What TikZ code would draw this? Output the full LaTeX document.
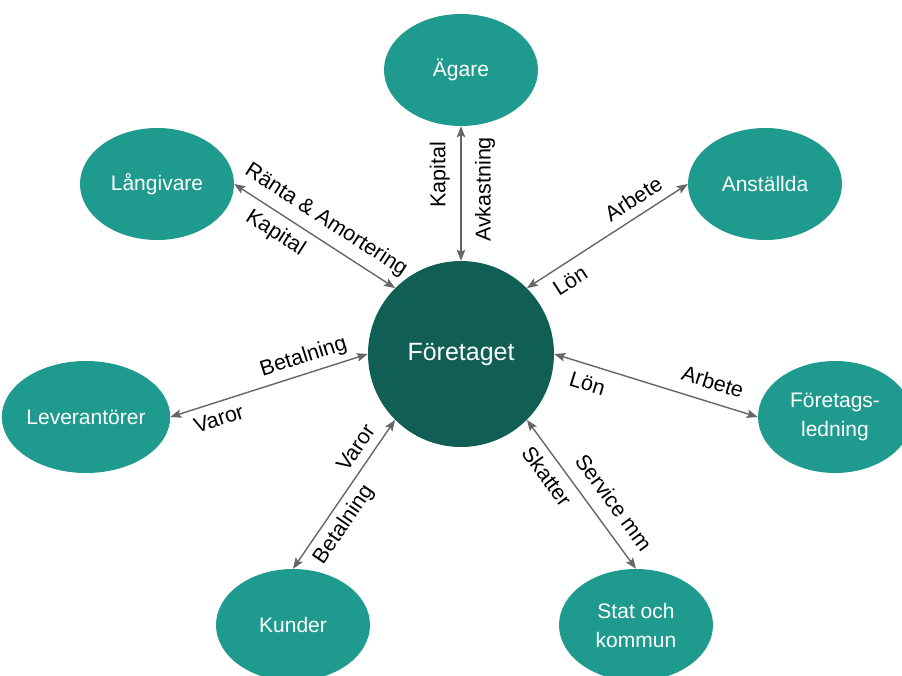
\documentclass[tikz,border=0pt]{standalone}
\usepackage{fontspec}
\setmainfont{Liberation Sans}
\usetikzlibrary{shapes.geometric,arrows.meta}
\definecolor{tealnode}{HTML}{1E9B8E}
\definecolor{darkhub}{HTML}{115E55}
\definecolor{linkgray}{HTML}{666666}
\tikzset{
  party/.style={ellipse, fill=tealnode, minimum width=154pt, minimum height=112pt,
    inner sep=0pt, text=white, font=\fontsize{21}{29}\selectfont, align=center},
  hub/.style={circle, fill=darkhub, minimum size=186pt, inner sep=0pt,
    text=white, font=\fontsize{25}{28}\selectfont},
  flow/.style={draw=linkgray, line width=1.4pt,
    {Stealth[length=11pt,width=8.5pt,inset=2pt]}-{Stealth[length=11pt,width=8.5pt,inset=2pt]}},
  lbl/.style={font=\fontsize{21.5}{24}\selectfont, inner sep=0pt, text height=15pt,
    text depth=4pt, sloped}
}
\begin{document}
\begin{tikzpicture}[x=1pt,y=-1pt]
\useasboundingbox (0,0) rectangle (902,676);

% central company and its stakeholders
\node[hub]   (hub)  at (461,354) {Företaget};
\node[party] (agare) at (461,70)  {Ägare};
\node[party] (lang)  at (157,184) {Långivare};
\node[party] (anst)  at (765,184) {Anställda};
\node[party] (lev)   at (86,417)  {Leverantörer};
\node[party] (fl)    at (835,417) {Företags-\\ledning};
\node[party] (kund)  at (293,625) {Kunder};
\node[party] (stat)  at (636,625) {Stat och\\kommun};

% two-way flows
\draw[flow] (hub.north) --
  node[lbl,pos=0.64,above=11pt]{Kapital}
  node[lbl,pos=0.53,below=14pt]{Avkastning} (agare.south);

\draw[flow] (lang.east) --
  node[lbl,pos=0.506,above=9pt]{Ränta \& Amortering}
  node[lbl,pos=0.32,below=9pt]{Kapital} (hub.north west);

\draw[flow] (hub.north east) --
  node[lbl,pos=0.72,above=5pt]{Arbete}
  node[lbl,pos=0.21,below=9pt]{Lön} (anst.west);

\draw[flow] (lev.east) --
  node[lbl,pos=0.70,above=6pt]{Betalning}
  node[lbl,pos=0.22,below=8pt]{Varor} (hub.west);

\draw[flow] (hub.east) --
  node[lbl,pos=0.19,below=10pt]{Lön}
  node[lbl,pos=0.75,above=8pt]{Arbete} (fl.west);

\draw[flow] (kund.north) --
  node[lbl,pos=0.75,above=5pt]{Varor}
  node[lbl,pos=0.36,below=7pt]{Betalning} (hub.south west);

\draw[flow] (hub.south east) --
  node[lbl,pos=0.31,below=9pt]{Skatter}
  node[lbl,pos=0.64,above=9pt]{Service mm} (stat.north);
\end{tikzpicture}
\end{document}
